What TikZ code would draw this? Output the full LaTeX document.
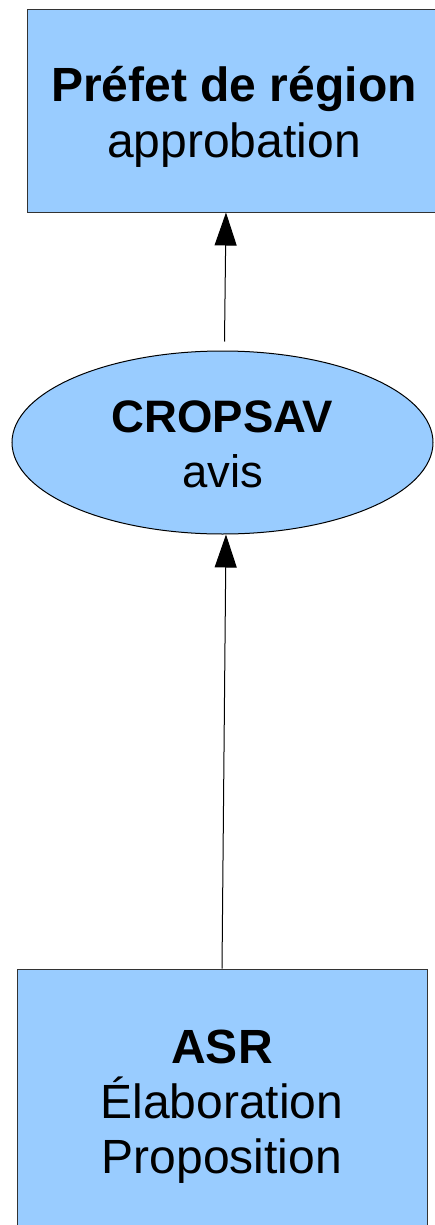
\documentclass[tikz,border=0pt]{standalone}
\usepackage{fontspec}
\setmainfont{Liberation Sans}
\usetikzlibrary{shapes.geometric,arrows.meta}
\definecolor{boxfill}{HTML}{99CCFF}
\definecolor{boxline}{HTML}{333333}
\tikzset{
  blockbox/.style={draw=boxline, line width=1pt, fill=boxfill, rectangle, inner sep=0pt},
  ovalbox/.style={draw=black, line width=1pt, fill=boxfill, ellipse, inner sep=0pt},
  txt/.style={anchor=base, inner sep=0pt, font=\fontsize{48pt}{55pt}\selectfont},
  txtsmall/.style={anchor=base, inner sep=0pt, font=\fontsize{45.5pt}{55pt}\selectfont},
  conn/.style={draw=black, line width=1pt, -{Triangle[length=33pt,width=22pt]}}
}
\begin{document}
\begin{tikzpicture}[x=1pt,y=1pt]
\useasboundingbox (0,0) rectangle (434,-1225);
% shapes
\node[blockbox, minimum width=414pt, minimum height=202pt] (pref) at (234,-111) {};
\node[ovalbox, minimum width=421pt, minimum height=183pt] (crop) at (222.5,-442.5) {};
\node[blockbox, minimum width=410pt, minimum height=266pt] (asr) at (222,-1102) {};
% texts
\node[txt] (t1a) at (234,-102) {\textbf{Préfet de région}};
\node[txt] (t1b) at (234,-158) {approbation};
\node[txtsmall] (t2a) at (222.5,-432) {\textbf{CROPSAV}};
\node[txtsmall] (t2b) at (222.5,-487) {avis};
\node[txt] (t3a) at (222,-1063) {\textbf{ASR}};
\node[txt] (t3b) at (222,-1118) {Élaboration};
\node[txt] (t3c) at (222,-1173) {Proposition};
% connectors
\coordinate (tail1) at (224.5,-341.5);
\draw[conn] (tail1) -- ([xshift=-8pt]pref.south);
\draw[conn] (asr.north) -- ([xshift=3.5pt]crop.south);
\end{tikzpicture}
\end{document}
